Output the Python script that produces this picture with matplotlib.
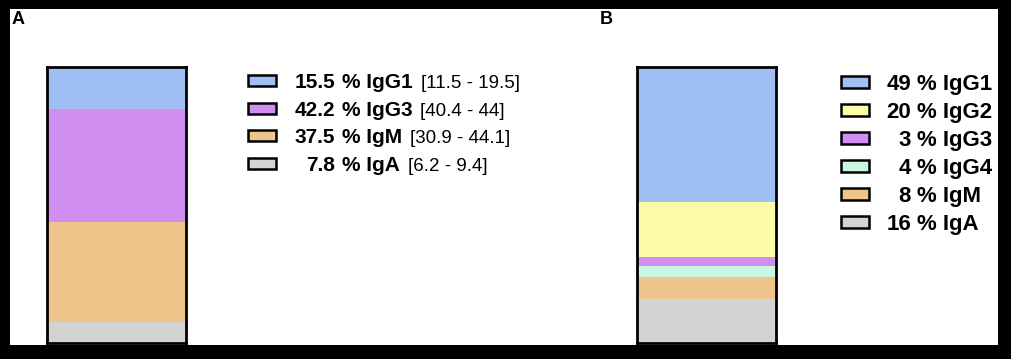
import matplotlib.pyplot as plt
from matplotlib.patches import Rectangle

plt.rcParams['font.family'] = ['Liberation Sans', 'DejaVu Sans']

# panel A: mean share with range
a_names = ['IgG1', 'IgG3', 'IgM', 'IgA']
a_values = [15.5, 42.2, 37.5, 7.8]
a_ranges = ['[11.5 - 19.5]', '[40.4 - 44]', '[30.9 - 44.1]', '[6.2 - 9.4]']
a_colors = ['#a0bff3', '#d08ef0', '#efc48a', '#d3d3d3']

# panel B
b_names = ['IgG1', 'IgG2', 'IgG3', 'IgG4', 'IgM', 'IgA']
b_values = [49, 20, 3, 4, 8, 16]
b_colors = ['#a0bff3', '#fbfba8', '#d08ef0', '#c8f7e1', '#efc48a', '#d3d3d3']

W, H = 1011, 359
fig = plt.figure(figsize=(W / 100, H / 100), dpi=100, facecolor='black')


def px_axes(left, top, width, height):
    """axes placed by pixel box (top-left origin)"""
    return fig.add_axes([left / W, 1 - (top + height) / H, width / W, height / H])


# white panel inside black frame
bg = px_axes(10, 9, 988, 336)
bg.set_facecolor('white')
bg.set_xticks([])
bg.set_yticks([])
for s in bg.spines.values():
    s.set_visible(False)


def stacked_bar(ax, values, colors):
    bottom = 0
    for v, c in zip(reversed(values), reversed(colors)):
        ax.bar(0, v, bottom=bottom, width=1, color=c, linewidth=0)
        bottom += v
    ax.set_xlim(-0.5, 0.5)
    ax.set_ylim(0, bottom)
    ax.set_xticks([])
    ax.set_yticks([])
    for s in ax.spines.values():
        s.set_linewidth(2.0)
        s.set_color('black')


def legend_rows(ax, width, values, names, colors, patch_x, num_x, size,
                ranges=None):
    n = len(values)
    ax.set_xlim(0, width)
    ax.set_ylim(n - 0.5, -0.5)
    ax.axis('off')
    for i in range(n):
        ax.add_patch(Rectangle((patch_x, i - 0.2), 28, 0.4, facecolor=colors[i],
                               edgecolor='black', linewidth=1.8, clip_on=False))
        y = i + 0.27
        num = ('%g' % values[i])
        ax.text(num_x, y, num, ha='right', va='baseline', fontsize=size,
                fontweight='bold')
        t = ax.text(num_x + 6.5, y, '% ' + names[i], ha='left', va='baseline',
                    fontsize=size, fontweight='bold')
        if ranges is not None:
            ax.annotate(ranges[i], xy=(1, y), xycoords=(t, 'data'),
                        xytext=(6, 0), textcoords='offset points',
                        ha='left', va='baseline', fontsize=13.5)


ax_a = px_axes(47, 67, 139, 276)
stacked_bar(ax_a, a_values, a_colors)
leg_a = px_axes(240, 67, 330, 110)
legend_rows(leg_a, 330, a_values, a_names, a_colors, 8, 95, 15, a_ranges)

ax_b = px_axes(637, 67, 139, 276)
stacked_bar(ax_b, b_values, b_colors)
leg_b = px_axes(830, 68, 168, 168)
legend_rows(leg_b, 168, b_values, b_names, b_colors, 11, 81, 16)

fig.text(12 / W, 1 - 24 / H, 'A', fontsize=13, fontweight='bold', va='baseline')
fig.text(600 / W, 1 - 24 / H, 'B', fontsize=13, fontweight='bold', va='baseline')

fig.savefig('out.png', dpi=100, facecolor='black')
